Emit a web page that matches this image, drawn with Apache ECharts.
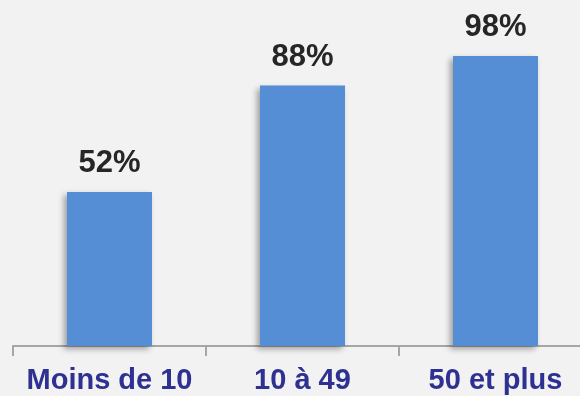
<!DOCTYPE html>
<html>
<head>
<meta charset="utf-8">
<script src="https://cdn.jsdelivr.net/npm/echarts@6/dist/echarts.min.js"></script>
<style>
html, body { margin: 0; padding: 0; background: #f2f2f2; }
#main { width: 580px; height: 396px; }
</style>
</head>
<body>
<div id="main"></div>
<script>
// taille d'entreprise (salariés) et part en %
var categories = ['Moins de 10', '10 à 49', '50 et plus'];
var values = [52, 88, 98];

var chart = echarts.init(document.getElementById('main'));
var option = {
    backgroundColor: '#f2f2f2',
    animation: false,
    grid: {
        left: 13,
        right: -12,
        top: 50,
        bottom: 50,
        containLabel: false,
        outerBoundsMode: 'none'
    },
    xAxis: {
        type: 'category',
        data: categories,
        axisLine: { lineStyle: { color: '#a6a6a6', width: 2 } },
        axisTick: { show: true, alignWithLabel: false, length: 10, lineStyle: { color: '#a6a6a6', width: 2 } },
        axisLabel: {
            color: '#2e3192',
            fontFamily: 'Liberation Sans',
            fontWeight: 'bold',
            fontSize: 29,
            margin: 20,
            interval: 0
        }
    },
    yAxis: {
        type: 'value',
        min: 0,
        max: 100,
        show: false
    },
    series: [{
        type: 'bar',
        data: values,
        barWidth: 85,
        itemStyle: {
            color: '#558ed5',
            shadowColor: 'rgba(0,0,0,0.35)',
            shadowBlur: 6,
            shadowOffsetX: -3,
            shadowOffsetY: 3
        },
        label: {
            show: true,
            position: 'top',
            distance: 13,
            formatter: '{c}%',
            color: '#262626',
            fontFamily: 'Liberation Sans',
            fontWeight: 'bold',
            fontSize: 31
        }
    }]
};
chart.setOption(option);
</script>
</body>
</html>
